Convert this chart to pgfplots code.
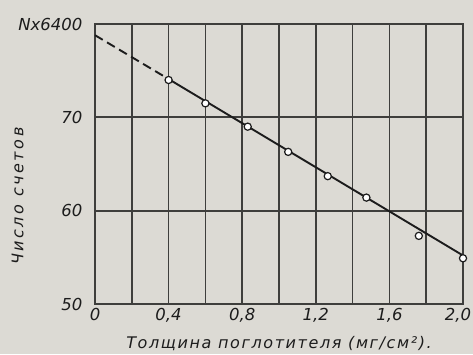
\documentclass[border=0pt]{standalone}
\usepackage{pgfplots}
\pgfplotsset{compat=1.18}
\usepackage{fontspec}
\setmainfont{DejaVu Sans}
\newfontfamily\labfont{DejaVu Sans Oblique}
\newfontfamily\ylabfont{DejaVu Sans Oblique}[LetterSpace=16]
\newfontfamily\xlabfont{DejaVu Sans Oblique}[LetterSpace=10]

\definecolor{paper}{RGB}{220,218,212}
\definecolor{gridc}{RGB}{62,62,60}
\definecolor{ink}{RGB}{28,28,28}

\begin{document}
\begin{tikzpicture}
% paper background, also the page size
\fill[paper] (-95pt,-50pt) rectangle (378pt,304pt);
\begin{axis}[
  at={(0pt,0pt)}, anchor=south west,
  scale only axis, width=368pt, height=280pt,
  xmin=0, xmax=2, ymin=50, ymax=80,
  xtick={0,0.4,0.8,1.2,1.6},
  xticklabels={0,{0,4},{0,8},{1,2},{1,6}},
  extra x ticks={2.0},
  extra x tick labels={2{,}0},
  extra x tick style={xticklabel style={xshift=-5pt}},
  minor xtick={0.2,0.6,1.0,1.4,1.8},
  ytick={50,60,70,80},
  yticklabels={50,60,70,{Nx6400}},
  grid=both,
  major grid style={line width=1.7pt, color=gridc},
  minor grid style={line width=1.7pt, color=gridc},
  major tick length=0pt, minor tick length=0pt,
  axis line style={line width=1.8pt, color=gridc},
  /pgf/number format/assume math mode=true,
  tick label style={font=\labfont\fontsize{16.5}{16.5}\selectfont, color=ink},
  yticklabel style={xshift=-9pt},
  xticklabel style={yshift=-1pt},
  xlabel={\xlabfont Толщина поглотителя (мг/см²).},
  ylabel={\ylabfont Число счетов},
  every axis x label/.style={at={(axis description cs:0.5,-0.14)}, anchor=center,
    font=\fontsize{16}{16}\selectfont, color=ink},
  every axis y label/.style={at={(axis description cs:-0.21,0.385)}, anchor=center, rotate=90,
    font=\fontsize{16}{16}\selectfont, color=ink},
  clip=false,
]
% extrapolation to zero thickness
\addplot[ink, line width=1.9pt, dash pattern=on 9pt off 5pt] coordinates {(0,78.8) (0.4,74.1)};
% fitted line through the measurements
\addplot[ink, line width=1.9pt] coordinates {(0.4,74.1) (2.0,55.2)};
% measured counts
\addplot[only marks, mark=*, mark size=3.6pt,
  mark options={fill=white, draw=ink, line width=1.2pt}]
  coordinates {(0.4,74.0) (0.6,71.5) (0.83,69.0) (1.05,66.3) (1.265,63.7)
               (1.475,61.4) (1.76,57.3) (2.0,54.9)};
\end{axis}
\pgfresetboundingbox
\useasboundingbox (-95pt,-50pt) rectangle (378pt,304pt);
\end{tikzpicture}
\end{document}
